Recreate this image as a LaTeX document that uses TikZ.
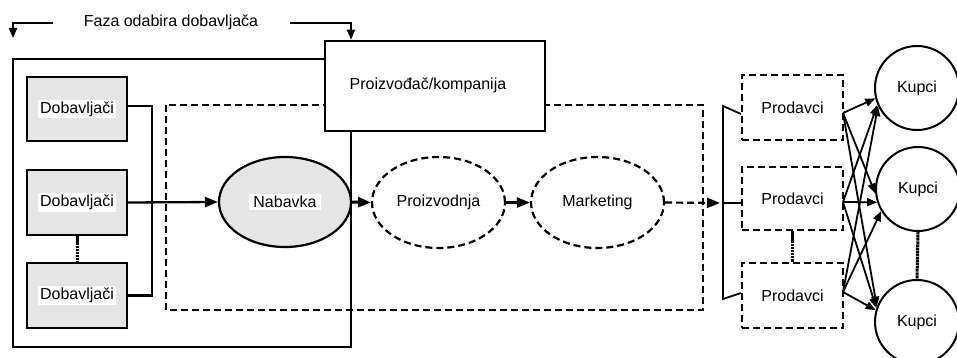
\documentclass[tikz,border=0pt]{standalone}
\usepackage{fontspec}
\setmainfont{Liberation Sans}
\usetikzlibrary{arrows.meta,shapes.geometric,calc}
\setlength{\fboxsep}{2pt}
\begin{document}
\begin{tikzpicture}[x=1pt,y=-1pt,
  every node/.style={font=\fontsize{16}{19}\selectfont, inner sep=1pt},
  supbox/.style={draw,line width=2.4pt,fill=gray!20,minimum width=100pt,minimum height=64pt},
  selbox/.style={draw,line width=2.2pt,dash pattern=on 7pt off 4pt,minimum width=101pt,minimum height=64pt},
  dashell/.style={draw,ellipse,line width=2.2pt,dash pattern=on 7pt off 4pt,minimum width=133pt,minimum height=91pt,inner sep=0pt},
  buyer/.style={draw,circle,line width=2pt,minimum size=84pt,inner sep=0pt},
  solidline/.style={line width=2.3pt},
  thinline/.style={line width=1.8pt},
  dashline/.style={line width=2.2pt,dash pattern=on 7pt off 4pt},
  dotline/.style={line width=3pt,dash pattern=on 2.5pt off 0.6pt},
  arr/.style={-{Triangle[length=13pt,width=10pt]}},
  smallarr/.style={-{Triangle[length=10pt,width=8pt]}},
]
\useasboundingbox (0,0) rectangle (957,358);

% outer solid frame and dashed frame
\draw[solidline] (13,59) rectangle (351,347);
\draw[dashline] (166,105) rectangle (703,310);

% company box
\node[draw,line width=2.6pt,fill=white,minimum width=220pt,minimum height=90pt] (comp) at (435,86) {};
\node (complabel) at (428,85) {Proizvođač/kompanija};

% top label with arrows
\node (faza) at (171,22) {Faza odabira dobavljača};
\coordinate (fl1) at (53,23);
\coordinate (fl2) at (13,23);
\coordinate (fl3) at (13,38);
\coordinate (fr1) at (290,23);
\coordinate (fr2) at (351,23);
\draw[thinline,smallarr] (fl1) -- (fl2) -- (fl3);
\draw[thinline,smallarr] (fr1) -- (fr2) -- (fr2 |- comp.north);

% suppliers
\node[supbox] (d1) at (77,109) {\colorbox{white}{Dobavljači}};
\node[supbox,minimum height=65pt] (d2) at (77,202.5) {\colorbox{white}{Dobavljači}};
\node[supbox,minimum height=65pt] (d3) at (77,295.5) {\colorbox{white}{Dobavljači}};
\draw[dotline] (d2.south) -- (d3.north);
\coordinate (bx) at (152,0);
\draw[solidline] ([yshift=3pt]d1.east) -| (bx |- d3.east) -- (d3.east);

% ellipses
\node[draw,ellipse,line width=2.2pt,fill=gray!20,minimum width=132pt,minimum height=90pt,inner sep=0pt] (nab) at (285,202) {\colorbox{white}{\,Nabavka\,}};
\draw[solidline,arr] (d2.east) -- (nab.west);
\node[dashell] (pro) at (438.5,202.5) {Proizvodnja};
\node[dashell] (mar) at (597.5,202.5) {Marketing};
\draw[line width=3pt,arr] (nab.east) -- (pro.west);
\draw[line width=2.4pt,arr] (pro.east) -- (mar.west);

% sellers
\node[selbox,minimum height=65pt] (p1) at (792.5,107.5) {Prodavci};
\node[selbox,minimum height=63pt] (p2) at (792.5,198.5) {Prodavci};
\node[selbox,minimum height=65pt] (p3) at (792.5,295.5) {Prodavci};
\draw[dotline] (p2.south) -- (p3.north);

% bracket (trapezoid)
\coordinate (tb) at (723,106);
\coordinate (bb) at (723,299);
\coordinate (mb) at (723,203);
\coordinate (tt) at (0,114);
\coordinate (bt) at (0,293);
\draw[thinline,line join=miter] (p1.west |- tt) -- (tb) -- (bb) -- (p3.west |- bt);
\draw[thinline] (mb) -- (p2.west |- mb);
\draw[dashline,arr] (mar.east) -- ([xshift=-3pt]mb);

% buyers
\node[buyer] (k1) at (917,88) {Kupci};
\node[buyer] (k2) at (918,189) {Kupci};
\node[buyer] (k3) at (917,322) {Kupci};
\draw[dotline] (k2.south) -- (k3.north);

% seller -> buyer arrows
\coordinate (o1) at (843,113);
\coordinate (o2) at (843,202);
\coordinate (o3) at (843,292);
\draw[thinline,smallarr] (o1) -- (k1.194);
\draw[thinline,smallarr] (o1) -- (k2.186);
\draw[thinline,smallarr] (o1) -- (k3.159);
\draw[thinline,smallarr] (o2) -- (k1.203);
\draw[thinline,smallarr] (o2) -- (k2.198);
\draw[thinline,smallarr] (o2) -- (k3.161);
\draw[thinline,smallarr] (o3) -- (k1.205);
\draw[thinline,smallarr] (o3) -- (k2.211);
\draw[thinline,smallarr] (o3) -- (k3.164);
\end{tikzpicture}
\end{document}
